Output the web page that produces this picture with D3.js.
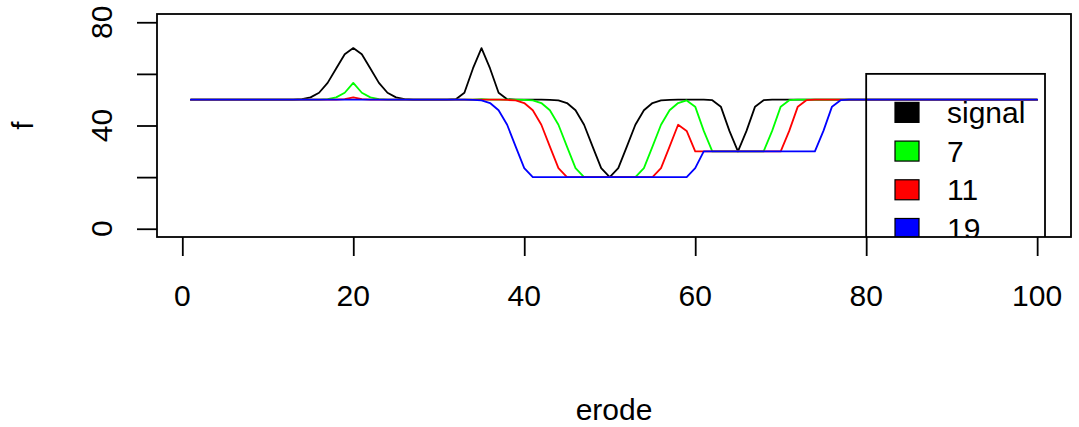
<!DOCTYPE html>
<html><head><meta charset="utf-8">
<script src="https://cdn.jsdelivr.net/npm/d3@7"></script>
<style>
body{margin:0;background:#fff}
text{font-family:"Liberation Sans",Arial,Helvetica,sans-serif;fill:#000}
</style>
</head><body>
<svg id="c" width="1079" height="427"></svg>
<script>
// ---- data ----
const xIndex = d3.range(1, 101);
const signal = [
  50,50,50,50,50,50,50,50,50,50,
  50,50,50,50.2,50.9,52.7,56.5,62.1,67.6,70,
  67.6,62.1,56.5,52.7,50.9,50.2,50,50,50,50,
  50,50.2,52.7,62.1,70,62.1,52.7,50.2,50,50,
  50,50,49.9,49.7,48.7,45.9,40.3,31.8,23.5,20,
  23.5,31.8,40.3,45.9,48.7,49.7,49.9,50,50,50,
  50,49.8,47.3,37.9,30,37.9,47.3,49.8,50,50,
  50,50,50,50,50,50,50,50,50,50,
  50,50,50,50,50,50,50,50,50,50,
  50,50,50,50,50,50,50,50,50,50
];
const erode7 = [
  50,50,50,50,50,50,50,50,50,50,
  50,50,50,50,50,50,50.2,50.9,52.7,56.5,
  52.7,50.9,50.2,50,50,50,50,50,50,50,
  50,50,50,50,50.2,50,50,50,50,49.9,
  49.7,48.7,45.9,40.3,31.8,23.5,20,20,20,20,
  20,20,20,23.5,31.8,40.3,45.9,48.7,49.7,47.3,
  37.9,30,30,30,30,30,30,30,37.9,47.3,
  49.8,50,50,50,50,50,50,50,50,50,
  50,50,50,50,50,50,50,50,50,50,
  50,50,50,50,50,50,50,50,50,50
];
const erode11 = [
  50,50,50,50,50,50,50,50,50,50,
  50,50,50,50,50,50,50,50,50.2,50.9,
  50.2,50,50,50,50,50,50,50,50,50,
  50,50,50,50,50,50,50,49.9,49.7,48.7,
  45.9,40.3,31.8,23.5,20,20,20,20,20,20,
  20,20,20,20,20,23.5,31.8,40.3,37.9,30,
  30,30,30,30,30,30,30,30,30,30,
  37.9,47.3,49.8,50,50,50,50,50,50,50,
  50,50,50,50,50,50,50,50,50,50,
  50,50,50,50,50,50,50,50,50,50
];
const erode19 = [
  50,50,50,50,50,50,50,50,50,50,
  50,50,50,50,50,50,50,50,50,50,
  50,50,50,50,50,50,50,50,50,50,
  50,50,50,49.9,49.7,48.7,45.9,40.3,31.8,23.5,
  20,20,20,20,20,20,20,20,20,20,
  20,20,20,20,20,20,20,20,20,23.5,
  30,30,30,30,30,30,30,30,30,30,
  30,30,30,30,37.9,47.3,49.8,50,50,50,
  50,50,50,50,50,50,50,50,50,50,
  50,50,50,50,50,50,50,50,50,50
];
const seriesNames = ["signal", "7", "11", "19"];
const seriesColors = ["#000000", "#00ff00", "#ff0000", "#0000ff"];
const xTicks = [0, 20, 40, 60, 80, 100];
const yTicks = [0, 20, 40, 60, 80];
const yTickLabels = [0, 40, 80];
const xLabel = "erode";
const yLabel = "f";
const legendAt = [80, 60];

// ---- layout ----
const W = 1079, H = 427;
const L = 157, R = 1071, T = 14, B = 237;
const svg = d3.select("#c");
svg.append("rect").attr("width", W).attr("height", H).attr("fill", "#fff");

const x = d3.scaleLinear().domain([1 - 0.04 * 99, 100 + 0.04 * 99]).range([L, R]);
const y = d3.scaleLinear().domain([0 - 0.04 * 80, 80 + 0.04 * 80]).range([B, T]);

svg.append("clipPath").attr("id", "pc").append("rect")
  .attr("x", L).attr("y", T).attr("width", R - L).attr("height", B - T);

const allSeries = [signal, erode7, erode11, erode19];
const line = d3.line().x((d, i) => x(xIndex[i])).y(d => y(d));
const plot = svg.append("g").attr("clip-path", "url(#pc)");
allSeries.forEach((s, k) => {
  plot.append("path").datum(s).attr("d", line)
    .attr("fill", "none").attr("stroke", seriesColors[k])
    .attr("stroke-width", 1.8).attr("stroke-linejoin", "round").attr("stroke-linecap", "round");
});

// legend (clipped to plot region, transparent background, like R)
const lg = plot.append("g");
const lx = x(legendAt[0]), ly = y(legendAt[1]);
const lRight = 1045, rowH = 38.7, firstRow = ly + 38.5;
lg.append("rect").attr("x", lx).attr("y", ly).attr("width", lRight - lx).attr("height", 4 * rowH + 40)
  .attr("fill", "none").attr("stroke", "#000").attr("stroke-width", 1.8);
seriesNames.forEach((n, i) => {
  const cy = firstRow + i * rowH;
  lg.append("rect").attr("x", 895).attr("y", cy - 10).attr("width", 24).attr("height", 20)
    .attr("fill", seriesColors[i]).attr("stroke", "#000").attr("stroke-width", 1.2);
  lg.append("text").attr("x", 947).attr("y", cy + 10.5).attr("font-size", 30).text(n);
});

// box
svg.append("rect").attr("x", L).attr("y", T).attr("width", R - L).attr("height", B - T)
  .attr("fill", "none").attr("stroke", "#000").attr("stroke-width", 1.8);

// axes
const gx = svg.append("g").attr("transform", `translate(0,${B})`)
  .call(d3.axisBottom(x).tickValues(xTicks).tickSize(19).tickFormat(""));
gx.select(".domain").remove();
gx.selectAll("line").attr("stroke", "#000").attr("stroke-width", 1.8);
svg.selectAll(".xl").data(xTicks).join("text").attr("class", "xl")
  .attr("x", d => x(d)).attr("y", 306).attr("text-anchor", "middle")
  .attr("font-size", 30).text(d => d);

const gy = svg.append("g").attr("transform", `translate(${L},0)`)
  .call(d3.axisLeft(y).tickValues(yTicks).tickSize(20).tickFormat(""));
gy.select(".domain").remove();
gy.selectAll("line").attr("stroke", "#000").attr("stroke-width", 1.8);
svg.selectAll(".yl").data(yTickLabels).join("text").attr("class", "yl")
  .attr("transform", d => `translate(112,${y(d)}) rotate(-90)`)
  .attr("text-anchor", "middle").attr("font-size", 30).text(d => d);

svg.append("text").attr("x", (L + R) / 2).attr("y", 420).attr("text-anchor", "middle")
  .attr("font-size", 30).text(xLabel);
svg.append("text").attr("transform", `translate(33,${(T + B) / 2}) rotate(-90)`)
  .attr("text-anchor", "middle").attr("font-size", 30).text(yLabel);
</script>
</body></html>
